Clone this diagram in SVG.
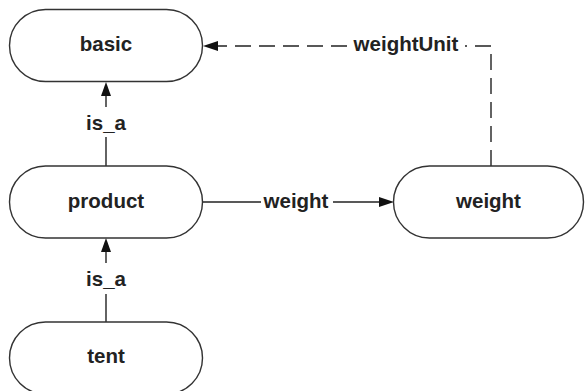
<svg xmlns="http://www.w3.org/2000/svg" width="586" height="391" viewBox="0 0 586 391">
<defs>
<style>
.node rect{fill:#fff;stroke:#333;stroke-width:1.4}
text{font-family:"Liberation Sans",Arial,sans-serif;font-weight:bold;font-size:20.5px;fill:#222;text-anchor:middle}
.edge{stroke:#222;stroke-width:1.4;fill:none}
.dash{stroke-dasharray:16 8}
.head{fill:#111;stroke:none}
.bg{fill:#fff;stroke:none}
</style>
</defs>
<rect width="586" height="391" fill="#fff"/>
<g id="connectors">
<!-- product is_a basic -->
<line class="edge" x1="106" y1="166" x2="106" y2="137"/>
<line class="edge" x1="106" y1="107" x2="106" y2="95"/>
<polygon class="head" points="106,82 101,96 111,96"/>
<text x="106" y="130">is_a</text>
<!-- tent is_a product -->
<line class="edge" x1="106" y1="322" x2="106" y2="294"/>
<line class="edge" x1="106" y1="263" x2="106" y2="251"/>
<polygon class="head" points="106,238 101,252 111,252"/>
<text x="106" y="286">is_a</text>
<!-- product weight weight -->
<line class="edge" x1="203" y1="202" x2="261" y2="202"/>
<line class="edge" x1="333" y1="202" x2="381" y2="202"/>
<polygon class="head" points="394,202 379,197 379,207"/>
<text x="296" y="207.5">weight</text>
<!-- weight weightUnit basic -->
<path class="edge dash" d="M491,166 V46 H217"/>
<polygon class="head" points="203,46 218,41 218,51"/>
<rect class="bg" x="348" y="33" width="117" height="26"/>
<text x="406" y="51">weightUnit</text>
</g>
<g id="basic" class="node">
<rect x="9.5" y="9.5" width="193" height="72" rx="36" ry="36"/>
<text x="106" y="51">basic</text>
</g>
<g id="product" class="node">
<rect x="9.5" y="166" width="193" height="72" rx="36" ry="36"/>
<text x="106" y="207.5">product</text>
</g>
<g id="tent" class="node">
<rect x="9.5" y="322" width="193" height="72" rx="36" ry="36"/>
<text x="106" y="363">tent</text>
</g>
<g id="weight" class="node">
<rect x="393.5" y="166" width="190" height="72" rx="36" ry="36"/>
<text x="488.5" y="207.5">weight</text>
</g>
</svg>
